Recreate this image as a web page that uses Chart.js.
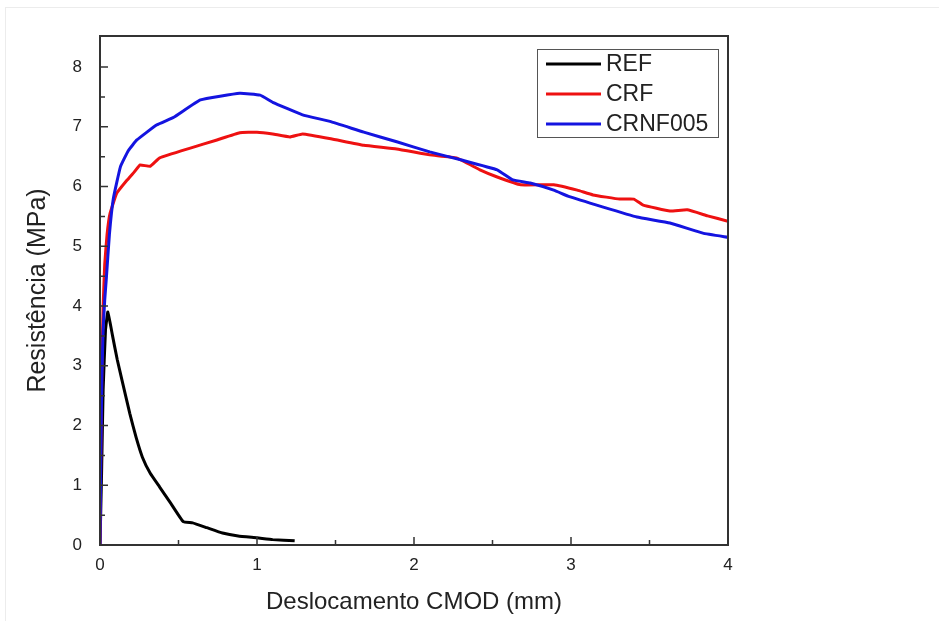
<!DOCTYPE html>
<html>
<head>
<meta charset="utf-8">
<script src="https://cdn.jsdelivr.net/npm/chart.js@4/dist/chart.umd.min.js"></script>
<style>
  html, body { margin: 0; padding: 0; background: #fff; }
  #frame { position: absolute; left: 5px; top: 7px; width: 940px; height: 620px; border: 1px solid #ececec; box-sizing: border-box; }
  #wrap { position: absolute; left: 0; top: 0; width: 939px; height: 621px; }
</style>
</head>
<body>
<div id="frame"></div>
<div id="wrap"><canvas id="cmod_chart" width="939" height="621"></canvas></div>
<script>
// REF
var refX = [0, 0.01, 0.02, 0.035, 0.05, 0.08, 0.11, 0.14, 0.19, 0.23, 0.27, 0.32, 0.38, 0.45, 0.53, 0.59, 0.68, 0.78, 0.88, 1.0, 1.1, 1.24];
var refY = [0, 1.2, 2.6, 3.6, 3.9, 3.5, 3.1, 2.76, 2.2, 1.8, 1.47, 1.2, 0.97, 0.7, 0.39, 0.37, 0.29, 0.2, 0.15, 0.12, 0.09, 0.07];
// CRF
var crfX = [0, 0.005, 0.012, 0.02, 0.03, 0.045, 0.064, 0.107, 0.17, 0.22, 0.255, 0.32, 0.38, 0.57, 0.745, 0.89, 1.0, 1.1, 1.21, 1.29, 1.47, 1.68, 1.89, 2.1, 2.27, 2.42, 2.53, 2.68, 2.89, 3.04, 3.14, 3.31, 3.4, 3.46, 3.63, 3.74, 3.87, 4.0];
var crfY = [0, 1.5, 3.0, 4.0, 4.7, 5.2, 5.55, 5.89, 6.1, 6.25, 6.36, 6.34, 6.48, 6.64, 6.78, 6.9, 6.91, 6.88, 6.83, 6.88, 6.8, 6.69, 6.63, 6.53, 6.48, 6.28, 6.16, 6.03, 6.03, 5.94, 5.86, 5.79, 5.79, 5.69, 5.59, 5.61, 5.51, 5.42];
// CRNF005
var crnfX = [0, 0.005, 0.012, 0.02, 0.03, 0.04, 0.06, 0.085, 0.13, 0.18, 0.235, 0.36, 0.47, 0.64, 0.89, 1.02, 1.1, 1.29, 1.465, 1.68, 1.89, 2.1, 2.31, 2.53, 2.63, 2.74, 2.89, 2.99, 3.2, 3.42, 3.63, 3.84, 4.0];
var crnfY = [0, 1.5, 2.8, 3.6, 4.1, 4.45, 5.2, 5.8, 6.33, 6.6, 6.78, 7.03, 7.16, 7.45, 7.56, 7.53, 7.41, 7.2, 7.09, 6.91, 6.75, 6.58, 6.44, 6.28, 6.11, 6.06, 5.94, 5.83, 5.66, 5.49, 5.39, 5.22, 5.15];

var seriesNames = ["REF", "CRF", "CRNF005"];
var seriesColors = ["#000000", "#ee1111", "#1414e0"];
var xTicks = [0, 1, 2, 3, 4];
var yTicks = [0, 1, 2, 3, 4, 5, 6, 7, 8];

function toPoints(xs, ys) {
    var pts = [];
    for (var i = 0; i < xs.length; i++) pts.push({ x: xs[i], y: ys[i] });
    return pts;
}

var fontFamily = "'Liberation Sans', Arial, sans-serif";
var ink = "#222222";

// frame, inward ticks and legend
var framePlugin = {
    id: "framePlugin",
    afterDraw: function (chart) {
        var ctx = chart.ctx;
        var a = chart.chartArea;
        var xs = chart.scales.x, ys = chart.scales.y;
        ctx.save();
        ctx.strokeStyle = "#333333";
        ctx.lineWidth = 2;
        ctx.strokeRect(a.left, a.top, a.right - a.left, a.bottom - a.top);

        ctx.lineWidth = 1.5;
        ctx.beginPath();
        for (var v = 0; v <= 4.001; v += 0.5) {
            var px = xs.getPixelForValue(v);
            var len = (Math.abs(v - Math.round(v)) < 0.01) ? 8 : 5;
            ctx.moveTo(px, a.bottom);
            ctx.lineTo(px, a.bottom - len);
        }
        for (var w = 0; w <= 8.001; w += 0.5) {
            var py = ys.getPixelForValue(w);
            var len2 = (Math.abs(w - Math.round(w)) < 0.01) ? 8 : 5;
            ctx.moveTo(a.left, py);
            ctx.lineTo(a.left + len2, py);
        }
        ctx.stroke();

        // legend box
        var lx = 537, ly = 49, lw = 181, lh = 88;
        ctx.fillStyle = "#ffffff";
        ctx.fillRect(lx, ly, lw, lh);
        ctx.strokeStyle = "#555555";
        ctx.lineWidth = 1;
        ctx.strokeRect(lx + 0.5, ly + 0.5, lw, lh);
        ctx.font = "23px " + fontFamily;
        ctx.textBaseline = "middle";
        ctx.textAlign = "left";
        chart.data.datasets.forEach(function (ds, i) {
            var yy = 64 + i * 30;
            ctx.strokeStyle = ds.borderColor;
            ctx.lineWidth = 3;
            ctx.beginPath();
            ctx.moveTo(546, yy);
            ctx.lineTo(601, yy);
            ctx.stroke();
            ctx.fillStyle = ink;
            ctx.fillText(ds.label, 606, yy + 1);
        });
        ctx.restore();
    }
};

var datasets = [
    toPoints(refX, refY),
    toPoints(crfX, crfY),
    toPoints(crnfX, crnfY)
].map(function (pts, i) {
    return {
        label: seriesNames[i],
        data: pts,
        showLine: true,
        borderColor: seriesColors[i],
        backgroundColor: seriesColors[i],
        borderWidth: 3,
        pointRadius: 0,
        tension: 0.1,
        order: 3 - i
    };
});

var ctx = document.getElementById("cmod_chart");
var myChart = new Chart(ctx, {
    type: "scatter",
    data: { datasets: datasets },
    options: {
        responsive: false,
        animation: false,
        layout: { padding: { left: 20, top: 36, right: 211, bottom: 0 } },
        plugins: {
            legend: { display: false },
            tooltip: { enabled: false }
        },
        scales: {
            x: {
                type: "linear",
                min: 0,
                max: 4,
                afterBuildTicks: function (scale) {
                    scale.ticks = xTicks.map(function (v) { return { value: v }; });
                },
                afterFit: function (scale) { scale.height = 76; },
                grid: { display: false, drawTicks: false },
                border: { display: false },
                ticks: { padding: 10, color: ink, font: { family: fontFamily, size: 17 } },
                title: {
                    display: true,
                    text: "Deslocamento CMOD (mm)",
                    color: ink,
                    font: { family: fontFamily, size: 24 },
                    padding: { top: 8, bottom: 4 }
                }
            },
            y: {
                type: "linear",
                min: 0,
                max: 8.52,
                afterBuildTicks: function (scale) {
                    scale.ticks = yTicks.map(function (v) { return { value: v }; });
                },
                afterFit: function (scale) { scale.width = 80; },
                grid: { display: false, drawTicks: false },
                border: { display: false },
                ticks: { padding: 18, color: ink, font: { family: fontFamily, size: 17 } },
                title: {
                    display: true,
                    text: "Resistência (MPa)",
                    color: ink,
                    font: { family: fontFamily, size: 25 },
                    padding: { top: 3, bottom: 0 }
                }
            }
        }
    },
    plugins: [framePlugin]
});
</script>
</body>
</html>
